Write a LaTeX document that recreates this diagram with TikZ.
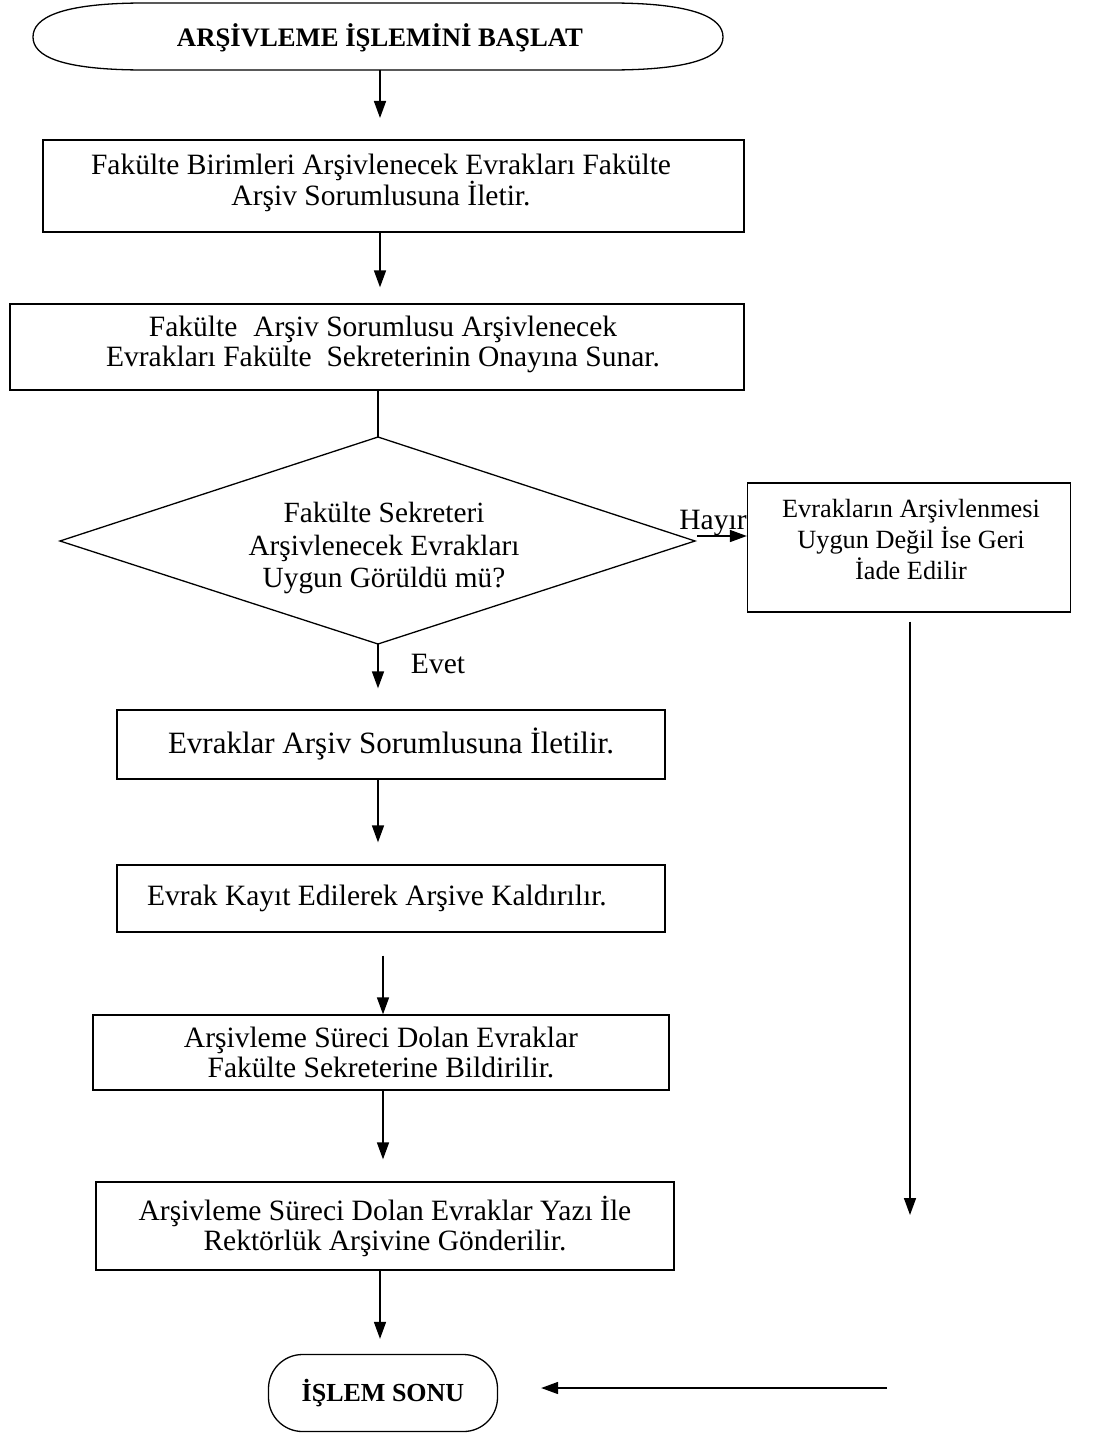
\documentclass[tikz,border=0pt]{standalone}
\usepackage{fontspec}
\setmainfont{Liberation Serif}
\usetikzlibrary{arrows.meta,calc}
\newcommand\fs{\fontsize{29.5}{30}\selectfont}
\newcommand\fsd{\fontsize{29.3}{32.5}\selectfont}
\newcommand\fss{\fontsize{26.3}{31}\selectfont}
\begin{document}
\begin{tikzpicture}[x=1pt,y=-1pt,
  box/.style={draw, line width=1.3pt, align=center, inner sep=0pt, font=\fs},
  txt/.style={align=center, inner sep=0pt, font=\fs},
  arr/.style={line width=1.6pt, -{Triangle[length=17pt,width=12pt]}},
  ln/.style={line width=1.6pt},
  lbl/.style={font=\fs, inner sep=0pt}]
\useasboundingbox (0,0) rectangle (1095,1434);

% start terminator
\draw[line width=1.3pt] (145,3) -- (610,3) .. controls (695,3) and (723,18) .. (723,37)
  .. controls (723,56) and (695,70) .. (610,70) -- (145,70)
  .. controls (60,70) and (33,56) .. (33,37) .. controls (33,18) and (60,3) .. (145,3) -- cycle;
\node[lbl, font=\fontsize{26.7}{30}\selectfont\bfseries] (start) at (380,38) {ARŞİVLEME İŞLEMİNİ BAŞLAT};

\node[box, minimum width=701pt, minimum height=92pt] (b1) at (393.5,186) {};
\node[txt] (b1t) at (381,183)
  {Fakülte Birimleri Arşivlenecek Evrakları Fakülte\\Arşiv Sorumlusuna İletir.};
\node[box, minimum width=734pt, minimum height=86pt] (b2) at (377,347) {};
\node[txt] (b2t) at (383,344)
  {Fakülte\hspace{16pt}Arşiv Sorumlusu Arşivlenecek\\Evrakları Fakülte\ \ Sekreterinin Onayına Sunar.};

% decision
\coordinate (dtop) at (378,437);
\coordinate (dleft) at (60,541);
\coordinate (dright) at (695,541);
\coordinate (dbot) at (378,644);
\draw[line width=1.3pt] (dtop) -- (dright) -- (dbot) -- (dleft) -- cycle;
\node[lbl, align=center, font=\fsd] (dtext) at (384,548)
  {Fakülte Sekreteri\\Arşivlenecek Evrakları\\Uygun Görüldü mü?};

\node[box, minimum width=323pt, minimum height=129pt] (rb) at (909,547.5) {};
\node[lbl, align=center, font=\fss] (rbt) at (911,539)
  {Evrakların Arşivlenmesi\\Uygun Değil İse Geri\\İade Edilir};

\node[box, minimum width=548pt, minimum height=69pt, font=\fontsize{31}{32}\selectfont] (b3) at (391,744.5)
  {Evraklar Arşiv Sorumlusuna İletilir.};
\node[box, minimum width=548pt, minimum height=67pt] (b4) at (391,898.5) {};
\node[txt] (b4t) at (377,898)
  {Evrak Kayıt Edilerek Arşive Kaldırılır.};
\node[box, minimum width=576pt, minimum height=75pt] (b5) at (381,1052.5)
  {Arşivleme Süreci Dolan Evraklar\\Fakülte Sekreterine Bildirilir.};
\node[box, minimum width=578pt, minimum height=88pt] (b6) at (385,1226)
  {Arşivleme Süreci Dolan Evraklar Yazı İle\\Rektörlük Arşivine Gönderilir.};

\node[draw, line width=1.3pt, rounded corners=34pt, minimum width=229pt, minimum height=77pt,
  inner sep=0pt, font=\fontsize{26}{30}\selectfont\bfseries] (end) at (383,1393) {İŞLEM SONU};

% connectors
\draw[arr, shorten >=22pt] (380,70) -- (380,140);
\draw[arr, shorten >=16pt] (b1.south -| 380,0) -- (b2.north -| 380,0);
\draw[ln] (b2.south -| dtop) -- (dtop);
\draw[arr, shorten >=21pt] (dbot) -- (b3.north -| dbot);
\node[lbl, anchor=base] (evet) at (438,673) {Evet};
\draw[arr, shorten >=22pt] (b3.south -| dbot) -- (b4.north -| dbot);
\draw[arr, shorten <=23pt] (b4.south -| 383,0) -- (b5.north -| 383,0);
\draw[arr, shorten >=22pt] (b5.south -| 383,0) -- (b6.north -| 383,0);
\draw[arr, shorten >=15pt] (b6.south -| 380,0) -- (end.north -| 380,0);

% no branch
\coordinate (hy) at (697,536);
\draw[arr] (hy) -- (rb.west |- hy);
\node[lbl, anchor=base] (hayir) at (713,529) {Hayır};
\coordinate (c1) at (910,1215);
\coordinate (c2) at (887,1388);
\draw[arr, shorten <=9pt] (rb.south -| c1) -- (c1);
\draw[arr, shorten >=43pt] (c2) -- (end.east |- c2);
\end{tikzpicture}
\end{document}
